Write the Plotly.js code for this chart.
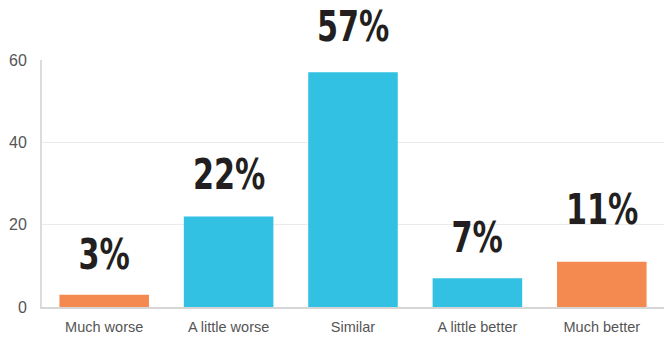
<!DOCTYPE html>
<html>
<head>
<meta charset="utf-8">
<script src="https://cdn.plot.ly/plotly-3.0.1.min.js"></script>
<style>
html,body{margin:0;padding:0;background:#fff;}
#chart{width:666px;height:339px;}
</style>
</head>
<body>
<div id="chart"></div>
<script>
const categories = ["Much worse", "A little worse", "Similar", "A little better", "Much better"];
const values = [3, 22, 57, 7, 11];
const valueLabels = ["3%", "22%", "57%", "7%", "11%"];
const barColors = ["#F58A50", "#33C1E3", "#33C1E3", "#33C1E3", "#F58A50"];
const labelShift = [22, 23, 27, 22, 34];

const trace = {
  type: "bar",
  x: categories,
  y: values,
  marker: {color: barColors},
  hoverinfo: "none"
};

const annotations = categories.map((c, i) => ({
  x: c, y: values[i], xref: "x", yref: "y",
  text: valueLabels[i], showarrow: false,
  yanchor: "bottom", yshift: labelShift[i] - 8,
  font: {family: "Liberation Sans Narrow, DejaVu Sans Condensed, sans-serif", size: 42, color: "#231F20", weight: "bold"}
}));

const layout = {
  width: 666, height: 339,
  margin: {l: 42, r: 2, t: 60, b: 32},
  paper_bgcolor: "#fff", plot_bgcolor: "#fff",
  bargap: 0.28,
  showlegend: false,
  font: {family: "Liberation Sans, Arial, sans-serif", color: "#555"},
  xaxis: {
    showline: true, linecolor: "#d6d6d6", linewidth: 2,
    ticks: "", tickfont: {size: 14.5, color: "#555"},
    ticklabelstandoff: 6, fixedrange: true
  },
  yaxis: {
    range: [0, 60], tickvals: [0, 20, 40, 60],
    showline: true, linecolor: "#dcdcdc", linewidth: 2,
    showgrid: true, gridcolor: "#ebebeb", gridwidth: 1,
    zeroline: false,
    ticks: "", tickfont: {size: 16, color: "#555"},
    ticklabelstandoff: 10, fixedrange: true
  },
  annotations: annotations
};

Plotly.newPlot("chart", [trace], layout, {displayModeBar: false, staticPlot: true}).then(function () {
  document.querySelectorAll("#chart .annotation-text").forEach(function (t) {
    const bb = t.getBBox();
    const cx = bb.x + bb.width / 2;
    t.setAttribute("transform", "translate(" + cx + ",0) scale(0.8,1) translate(" + (-cx) + ",0)");
  });
});
</script>
</body>
</html>
